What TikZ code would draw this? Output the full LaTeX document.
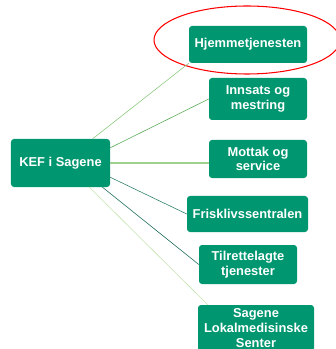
\documentclass[tikz,border=0pt]{standalone}
\usepackage{fontspec}
\setmainfont{Liberation Sans}
\usetikzlibrary{shapes.geometric}
\definecolor{boxgreen}{RGB}{0,151,112}
\definecolor{linea}{RGB}{140,201,126}
\definecolor{lineb}{RGB}{91,170,87}
\definecolor{linec}{RGB}{158,208,142}
\definecolor{lined}{RGB}{47,127,106}
\definecolor{linee}{RGB}{29,107,90}
\definecolor{linef}{RGB}{197,227,176}
\begin{document}
\begin{tikzpicture}[x=0.03cm, y=-0.03cm,
    unit/.style={rectangle, rounded corners=0.09cm, fill=boxgreen, text=white, inner sep=0pt,
      align=center, font=\fontsize{11}{12.5}\selectfont\bfseries}]
    \useasboundingbox (0,0) rectangle (335,349);
    \node[unit, minimum width=2.97cm, minimum height=1.44cm] (kef) at (60.5,163){KEF i Sagene};
    \node[unit, minimum width=3.54cm, minimum height=1.11cm] (sub1) at (248,44.5){Hjemmetjenesten};
    \node[unit, minimum width=2.94cm, minimum height=1.26cm] (sub2) at (258,99){Innsats og\\mestring};
    \node[unit, minimum width=2.94cm, minimum height=1.14cm] (sub3) at (258,159){Mottak og\\service};
    \node[unit, minimum width=3.63cm, minimum height=1.08cm] (sub4) at (247.5,214){Frisklivssentralen};
    \node[unit, minimum width=2.94cm, minimum height=1.17cm] (sub5) at (248,264.5){Tilrettelagte\\tjenester};
    \node[unit, minimum width=3.48cm, minimum height=1.38cm] (sub6) at (256,328){Sagene\\Lokalmedisinske\\Senter};
    \node[ellipse, draw=red, line width=0.9pt, minimum width=5.58cm, minimum height=2.04cm] (ring) at (247,40){};
    \draw[linea, line width=0.5pt](kef.37) -- (sub1.south west);
    \draw[lineb, line width=0.5pt](kef.17) -- (sub2.west);
    \draw[linec, line width=1.1pt](kef.east) -- (kef.east -| sub3.west);
    \draw[lined, line width=0.5pt](kef.-16) -- (sub4.west);
    \draw[linee, line width=0.5pt](kef.-30) -- (sub5.west);
    \draw[linef, line width=0.5pt](kef.-40) -- ([xshift=0.3cm]sub6.north west);
  \end{tikzpicture}
\end{document}
